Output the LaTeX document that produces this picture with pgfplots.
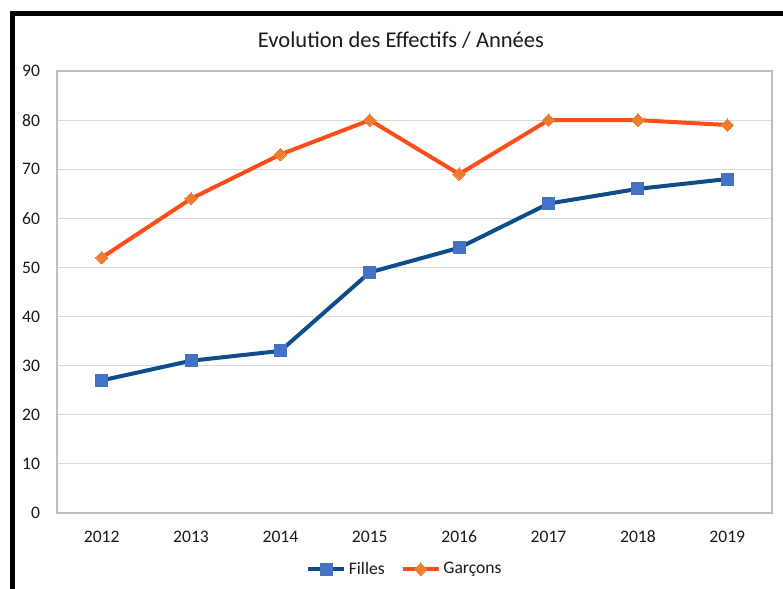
\documentclass[border=0pt]{standalone}
\usepackage{pgfplots}
\pgfplotsset{compat=1.18}
\usepackage{fontspec}
\setmainfont{Carlito}
\definecolor{fblue}{HTML}{0F4C8A}
\definecolor{fbluem}{HTML}{4472C4}
\definecolor{gor}{HTML}{FF4D1A}
\definecolor{gorm}{HTML}{ED7D31}
\definecolor{gridc}{HTML}{D9D9D9}
\definecolor{axc}{HTML}{BFBFBF}
\definecolor{txt}{HTML}{1A1A1A}
\begin{document}
\begin{tikzpicture}
\path[use as bounding box] (0pt,0pt) rectangle (587.25pt,441.75pt);
\begin{axis}[
  at={(42.75pt,57pt)}, anchor=south west,
  scale only axis, width=536.25pt, height=331.5pt,
  xmin=-0.5, xmax=7.5, ymin=0, ymax=90,
  xtick={0,...,7},
  xticklabels={2012,2013,2014,2015,2016,2017,2018,2019},
  ytick={0,10,...,90},
  ymajorgrids, grid style={draw=gridc, line width=0.75pt},
  axis line style={draw=axc, line width=1pt},
  major tick length=0pt,
  tick label style={font=\fontsize{13.2}{15}\selectfont, text=txt},
  /pgf/number format/assume math mode=true,
  yticklabel style={inner sep=0pt, xshift=-12.5pt},
  xticklabel style={inner sep=0pt, yshift=-13pt},
  legend style={at={(0.487,-0.127)}, anchor=center, draw=none, fill=none,
    legend columns=2, font=\fontsize{13.2}{15}\selectfont, text=txt,
    /tikz/every even column/.append style={column sep=10pt}},
  legend image code/.code={\draw[mark repeat=2,mark phase=2,#1] plot coordinates {(0pt,0pt) (13.5pt,0pt) (27pt,0pt)};},
]
\addplot[fblue, line width=3pt, mark=square*, mark size=4.5pt,
  mark options={fill=fbluem, draw=fbluem, line width=0pt}]
  coordinates {(0,27) (1,31) (2,33) (3,49) (4,54) (5,63) (6,66) (7,68)};
\addlegendentry{Filles}
\addplot[gor, line width=3pt, mark=square*, mark size=3.3pt,
  mark options={fill=gorm, draw=gorm, line width=0pt, rotate=45}]
  coordinates {(0,52) (1,64) (2,73) (3,80) (4,69) (5,80) (6,80) (7,79)};
\addlegendentry{Garçons}
\end{axis}
\node[font=\fontsize{16.9}{20}\selectfont, text=txt] at (300.75pt,411.75pt) {Evolution des Effectifs / Années};
\draw[black, line width=3.75pt] (9pt,0pt) -- (9pt,431.6pt) -- (587.25pt,431.6pt);
\end{tikzpicture}
\end{document}
